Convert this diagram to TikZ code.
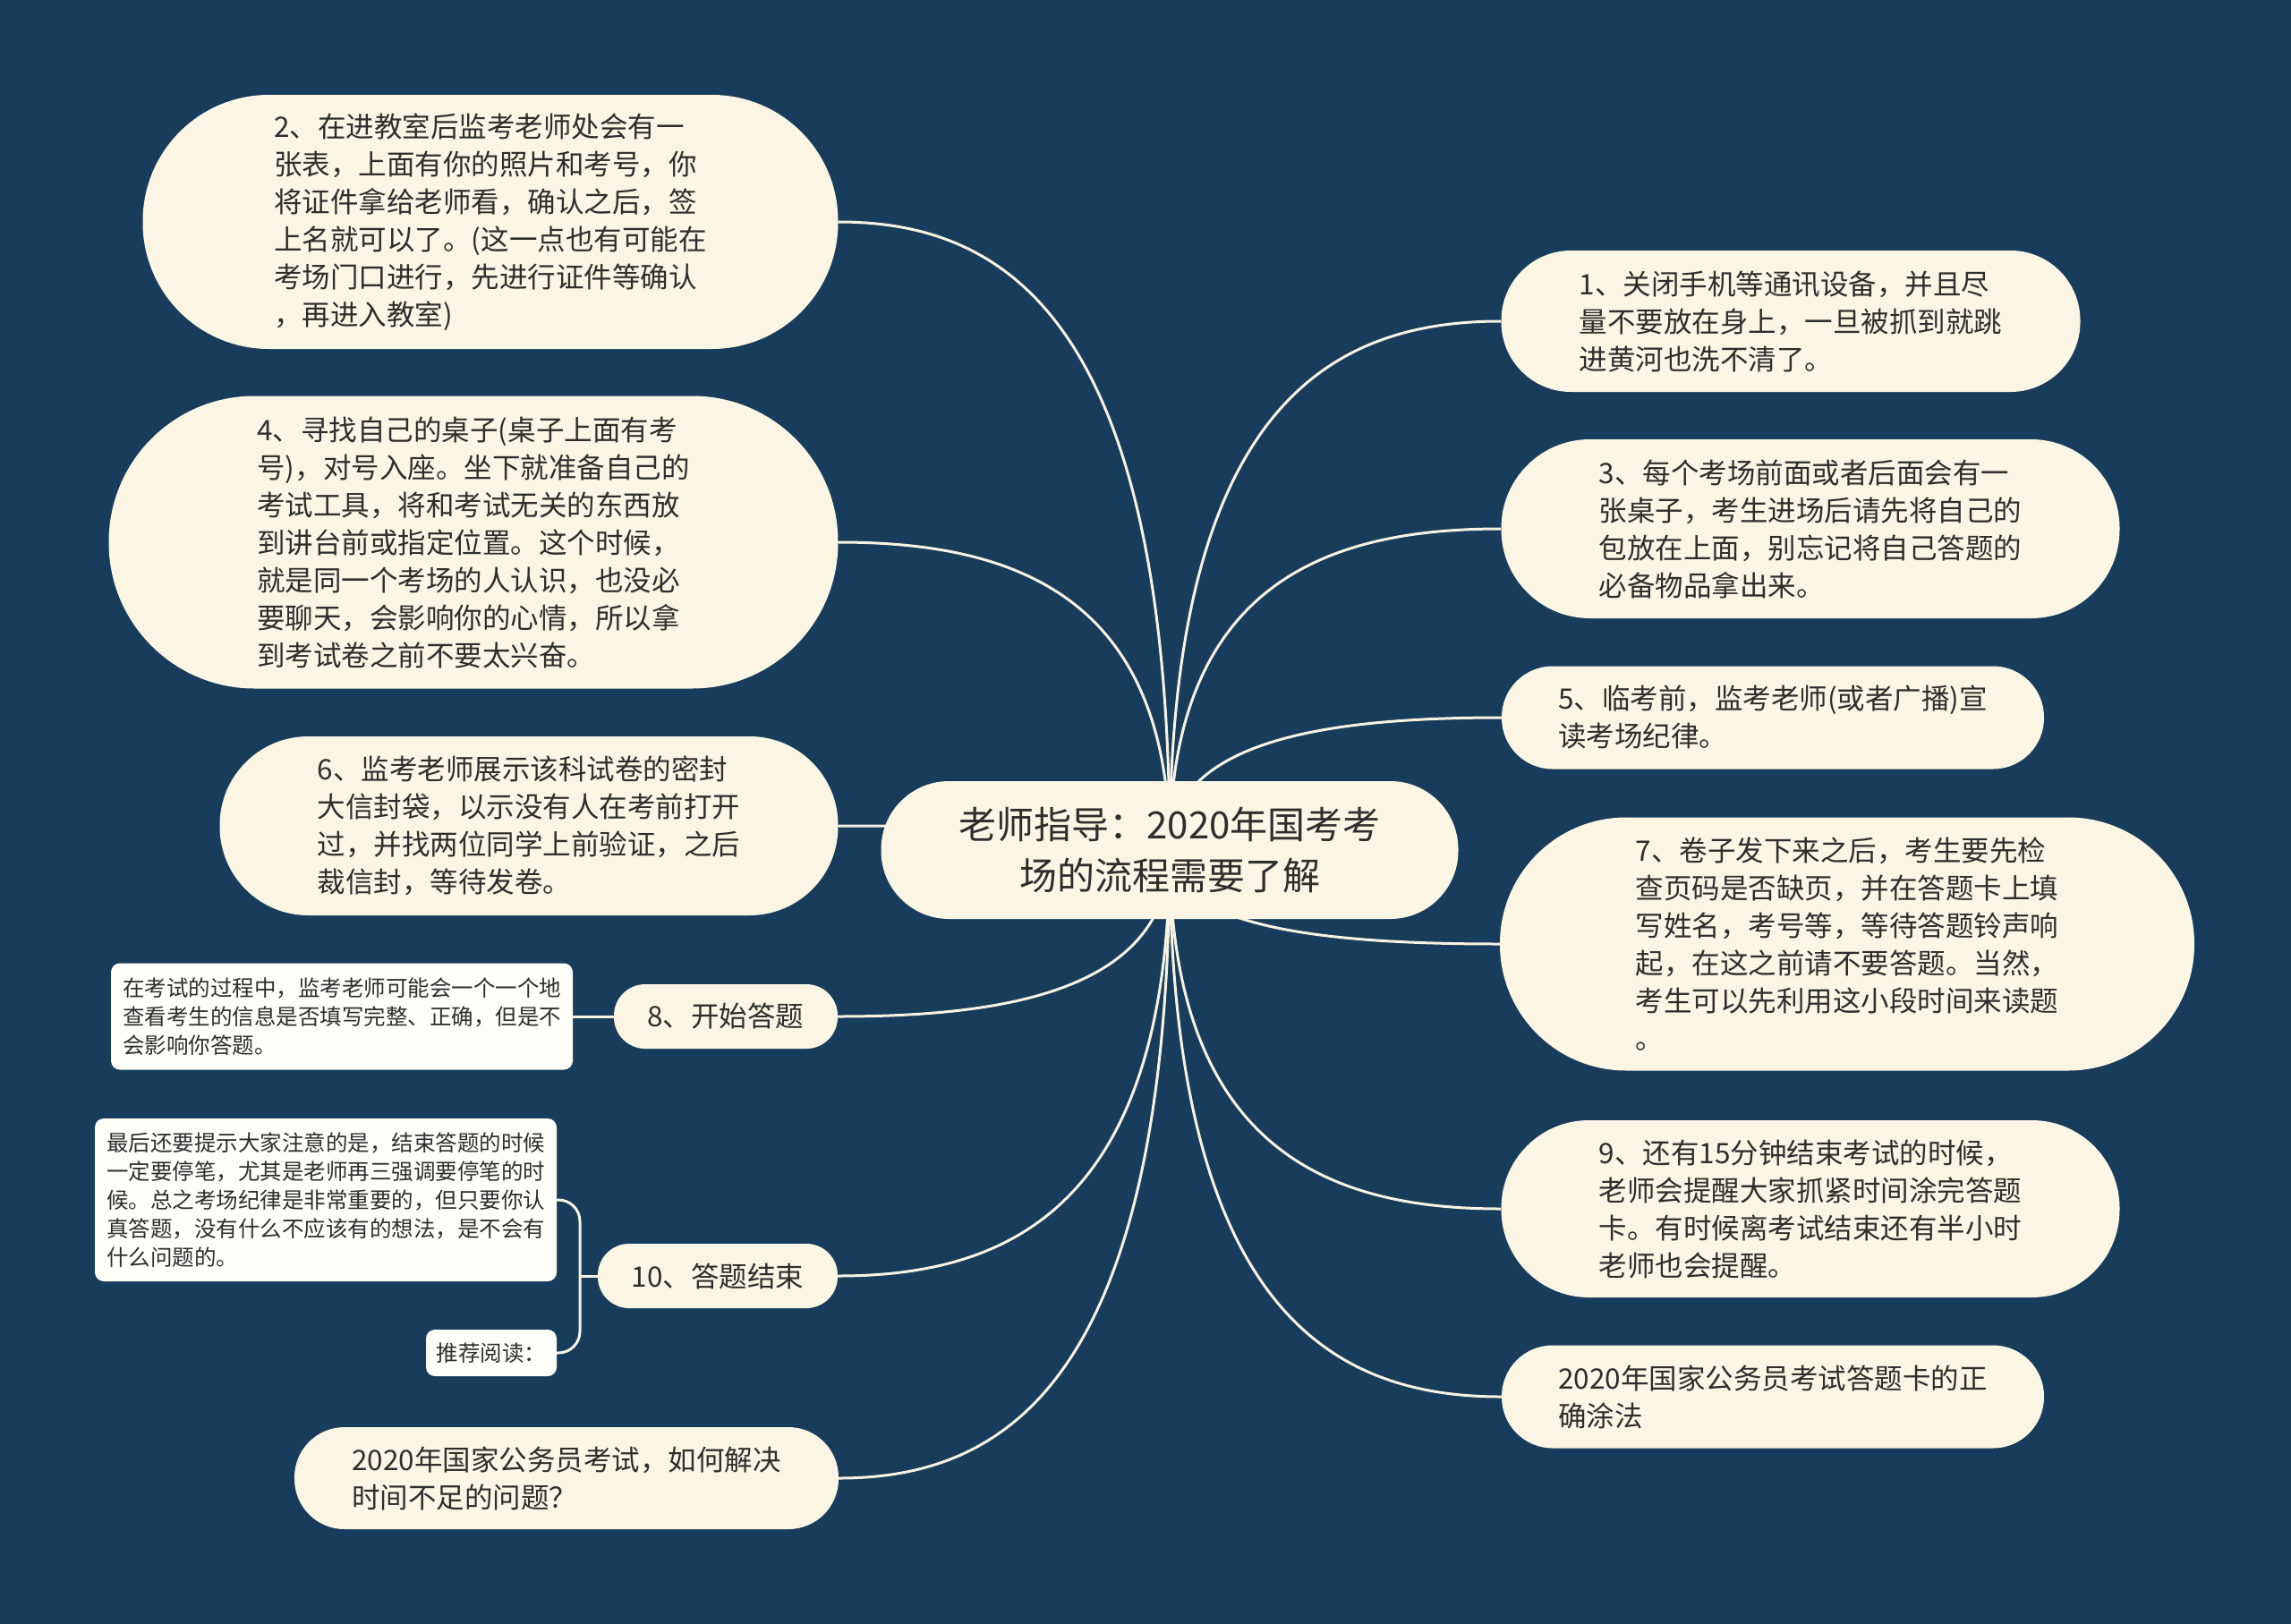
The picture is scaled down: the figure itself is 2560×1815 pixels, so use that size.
\documentclass[tikz,border=0pt]{standalone}
\usepackage{fontspec}
\newfontfamily\cjk{Noto Sans CJK SC}
\usetikzlibrary{calc}
\pgfdeclarelayer{canvas}
\pgfdeclarelayer{background}
\pgfsetlayers{canvas,background,main}
\definecolor{bg}{HTML}{183D5C}
\definecolor{cream}{HTML}{FBF6E3}
\definecolor{leafc}{HTML}{FFFEF8}
\definecolor{linec}{HTML}{F7F2E2}
\definecolor{txt}{HTML}{2E2E2E}
\newcommand\rootlink[1]{\draw[conn] (root.center) .. controls ($(root.center)!0.85!(root.center|-#1)$) and ($(root.center|-#1)!0.5!(#1)$) .. (#1);}
\begin{document}
\begin{tikzpicture}[x=1pt,y=-1pt,
  bubble/.style={fill=cream, inner sep=0pt, align=left, text=txt, font=\cjk\fontsize{31.5}{42}\selectfont},
  rootbox/.style={fill=cream, inner sep=0pt, align=center, text=txt, font=\cjk\fontsize{42}{57}\selectfont},
  leaf/.style={fill=leafc, rounded corners=10pt, inner sep=0pt, align=left, text=txt, font=\cjk\fontsize{24.5}{32}\selectfont},
  conn/.style={draw=linec, line width=3pt}]
\useasboundingbox (0,0) rectangle (2560,1815);
\begin{pgfonlayer}{canvas}
\fill[bg] (0,0) rectangle (2560,1815);
\end{pgfonlayer}

\node[rootbox, minimum width=645pt, minimum height=154pt, rounded corners=76pt] (root) at (1307,950) {老师指导：2020年国考考\\场的流程需要了解};

\node[bubble, minimum width=777pt, minimum height=284pt, rounded corners=141pt] (n2) at (548,248) {2、在进教室后监考老师处会有一\\张表，上面有你的照片和考号，你\\将证件拿给老师看，确认之后，签\\上名就可以了。(这一点也有可能在\\考场门口进行，先进行证件等确认\\，再进入教室)};

\node[bubble, minimum width=815pt, minimum height=327pt, rounded corners=163pt] (n4) at (529,606) {4、寻找自己的桌子(桌子上面有考\\号)，对号入座。坐下就准备自己的\\考试工具，将和考试无关的东西放\\到讲台前或指定位置。这个时候，\\就是同一个考场的人认识，也没必\\要聊天，会影响你的心情，所以拿\\到考试卷之前不要太兴奋。};

\node[bubble, minimum width=691pt, minimum height=200pt, rounded corners=99pt] (n6) at (591,923) {6、监考老师展示该科试卷的密封\\大信封袋，以示没有人在考前打开\\过，并找两位同学上前验证，之后\\裁信封，等待发卷。};

\node[bubble, minimum width=250pt, minimum height=72pt, rounded corners=35pt] (n8) at (811,1136) {8、开始答题};
\node[leaf, minimum width=516pt, minimum height=119pt] (l8) at (382,1136) {在考试的过程中，监考老师可能会一个一个地\\查看考生的信息是否填写完整、正确，但是不\\会影响你答题。};

\node[bubble, minimum width=268pt, minimum height=72pt, rounded corners=35pt] (n10) at (802,1426) {10、答题结束};
\node[leaf, minimum width=516pt, minimum height=182pt] (l10a) at (364,1341) {最后还要提示大家注意的是，结束答题的时候\\一定要停笔，尤其是老师再三强调要停笔的时\\候。总之考场纪律是非常重要的，但只要你认\\真答题，没有什么不应该有的想法，是不会有\\什么问题的。};
\node[leaf, minimum width=146pt, minimum height=52pt] (l10b) at (549,1512) {推荐阅读：};
\coordinate (j10) at (648,1426);

\node[bubble, minimum width=608pt, minimum height=114pt, rounded corners=56pt] (n12) at (633,1652) {2020年国家公务员考试，如何解决\\时间不足的问题？};

\node[bubble, minimum width=647pt, minimum height=158pt, rounded corners=78pt] (r1) at (2001,359) {1、关闭手机等通讯设备，并且尽\\量不要放在身上，一旦被抓到就跳\\进黄河也洗不清了。};

\node[bubble, minimum width=691pt, minimum height=200pt, rounded corners=99pt] (r3) at (2023,591) {3、每个考场前面或者后面会有一\\张桌子，考生进场后请先将自己的\\包放在上面，别忘记将自己答题的\\必备物品拿出来。};

\node[bubble, minimum width=606pt, minimum height=115pt, rounded corners=57pt] (r5) at (1981,802) {5、临考前，监考老师(或者广播)宣\\读考场纪律。};

\node[bubble, minimum width=776pt, minimum height=283pt, rounded corners=141pt] (r7) at (2064,1055) {7、卷子发下来之后，考生要先检\\查页码是否缺页，并在答题卡上填\\写姓名，考号等，等待答题铃声响\\起，在这之前请不要答题。当然，\\考生可以先利用这小段时间来读题\\。};

\node[bubble, minimum width=691pt, minimum height=198pt, rounded corners=98pt] (r9) at (2023,1351) {9、还有15分钟结束考试的时候，\\老师会提醒大家抓紧时间涂完答题\\卡。有时候离考试结束还有半小时\\老师也会提醒。};

\node[bubble, minimum width=606pt, minimum height=115pt, rounded corners=57pt] (r11) at (1981,1561) {2020年国家公务员考试答题卡的正\\确涂法};

\begin{pgfonlayer}{background}
\rootlink{n2.east}
\rootlink{n4.east}
\rootlink{n6.east}
\rootlink{n8.east}
\rootlink{n10.east}
\rootlink{n12.east}
\rootlink{r1.west}
\rootlink{r3.west}
\rootlink{r5.west}
\rootlink{r7.west}
\rootlink{r9.west}
\rootlink{r11.west}
\draw[conn] (n8.west) -- (l8.east);
\draw[conn] (n10.west) -- (j10);
\draw[conn, rounded corners=24pt] (j10) |- (l10a.east);
\draw[conn, rounded corners=24pt] (j10) |- (l10b.east);
\end{pgfonlayer}
\end{tikzpicture}
\end{document}
